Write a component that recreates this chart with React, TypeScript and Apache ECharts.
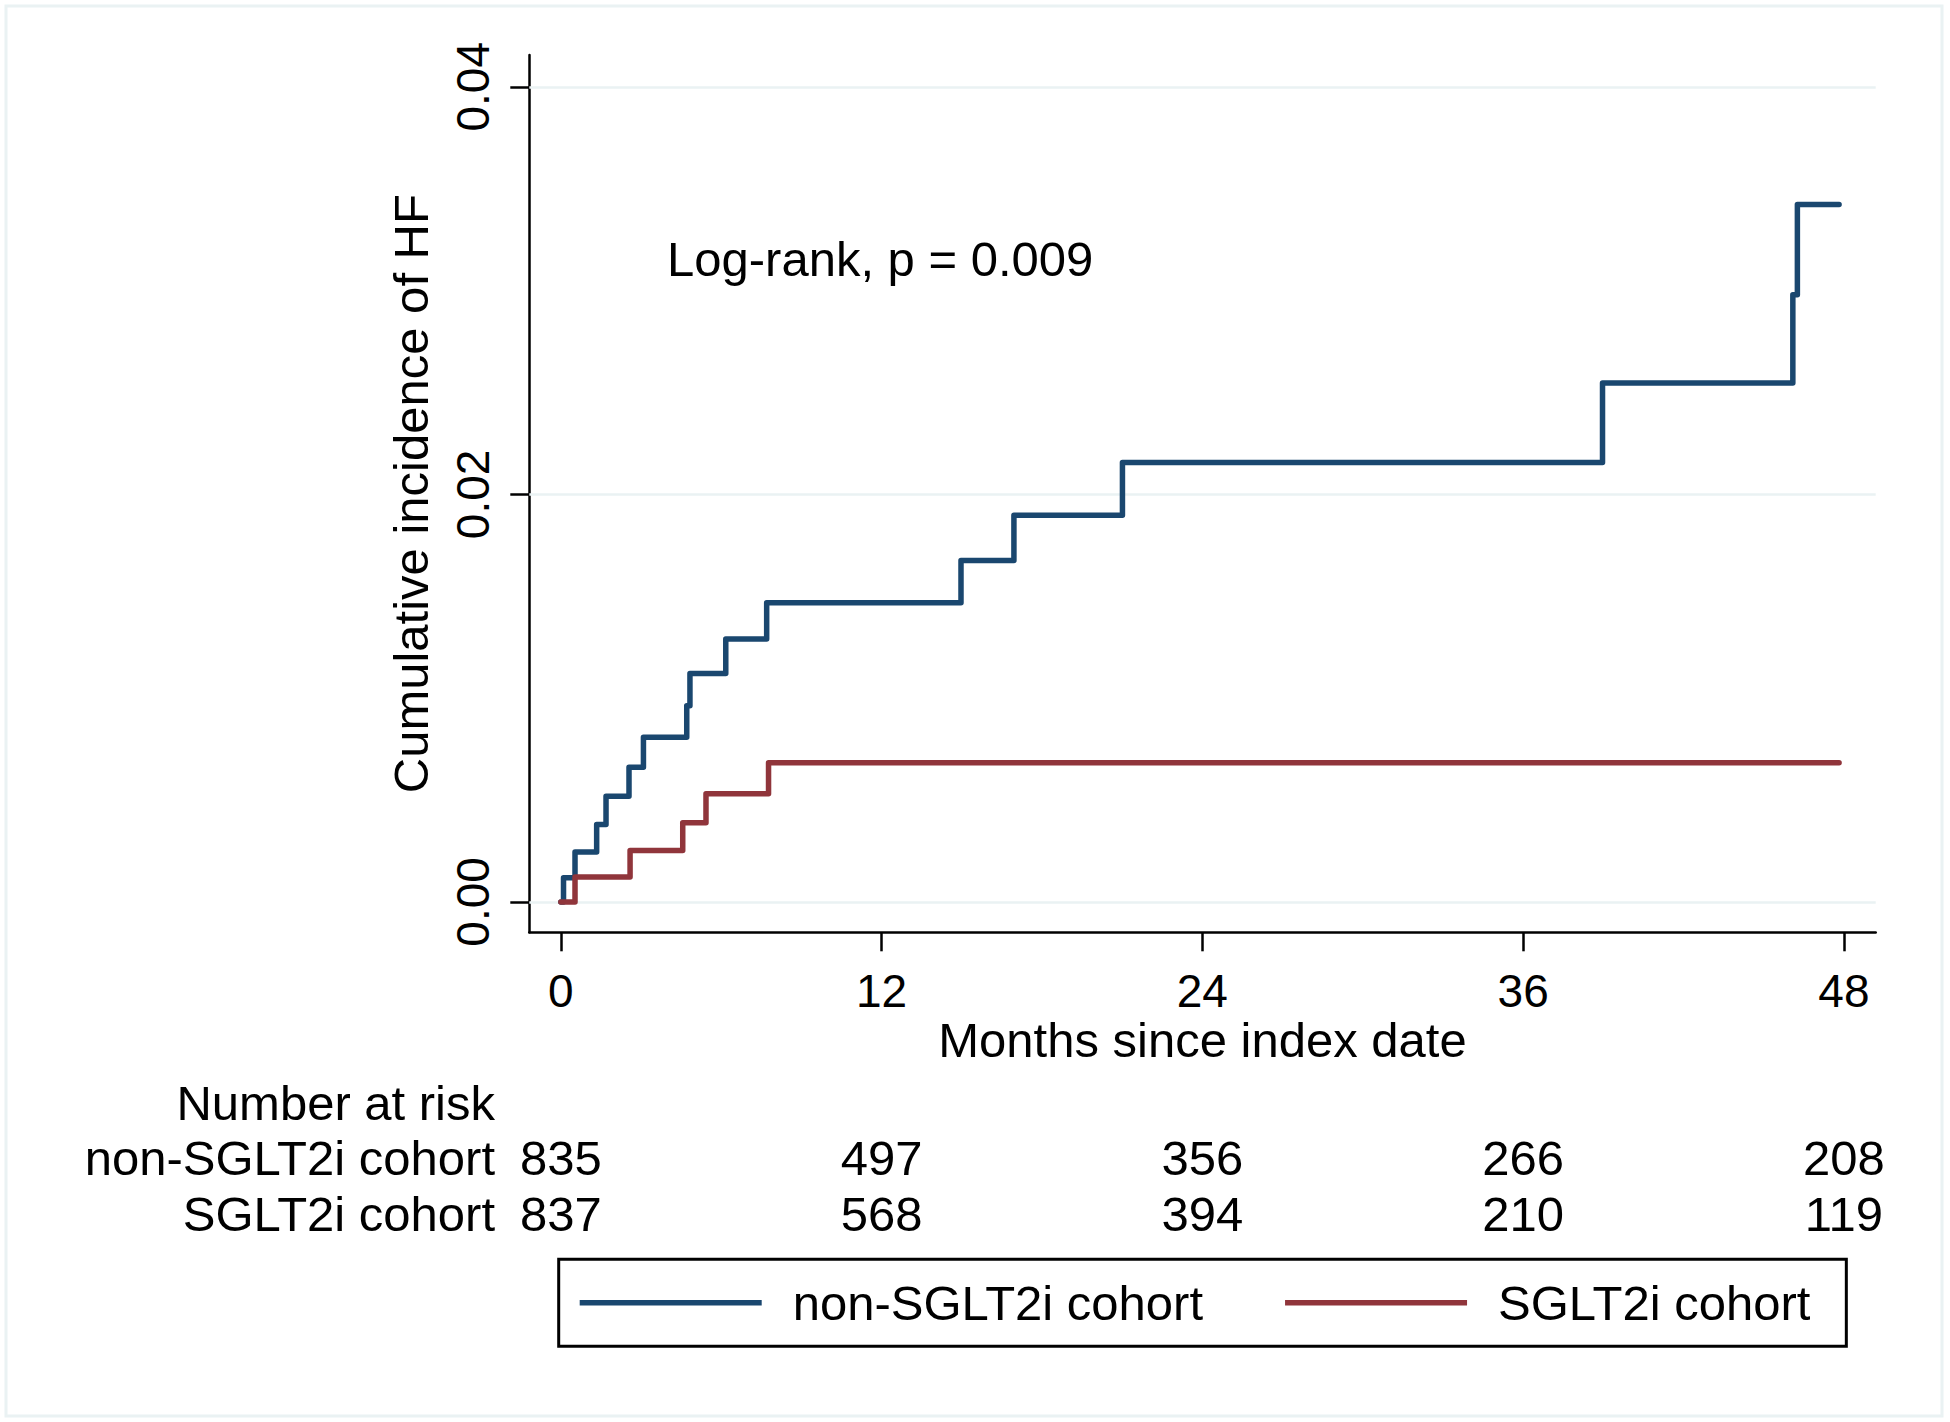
import React, { useEffect, useRef } from "react";
import * as echarts from "echarts";

const FONT = "'Liberation Sans', Arial, Helvetica, sans-serif";

// Axis ticks
const monthTicks = [0, 12, 24, 36, 48];
const incidenceTicks = [0, 0.02, 0.04];

// Kaplan-Meier style cumulative incidence steps (time in months, cumulative incidence)
const nonSglt2Months = [0, 0.1, 0.53, 1.34, 1.69, 2.55, 3.09, 4.71, 4.83, 6.17, 7.7, 14.97, 16.95, 21.01, 38.97, 46.09, 46.26, 47.82];
const nonSglt2Incidence = [0, 0.00119, 0.00245, 0.0038, 0.00518, 0.00661, 0.00808, 0.00963, 0.01121, 0.0129, 0.01468, 0.01676, 0.01897, 0.02156, 0.02546, 0.02979, 0.03423, 0.03423];

const sglt2Months = [0, 0.53, 2.59, 4.56, 5.43, 7.77, 47.82];
const sglt2Incidence = [0, 0.00122, 0.00253, 0.00389, 0.00531, 0.00683, 0.00683];

// Number at risk table
const riskNonSglt2 = [835, 497, 356, 266, 208];
const riskSglt2 = [837, 568, 394, 210, 119];

const seriesNames = ["non-SGLT2i cohort", "SGLT2i cohort"];
const seriesColors = ["#1a476f", "#90353b"];
const riskRowLabels = ["non-SGLT2i cohort", "SGLT2i cohort"];
const logRankText = "Log-rank, p = 0.009";

const X_MIN = -1.18;
const X_MAX = 49.19;
const Y_MIN = -0.00149;
const Y_MAX = 0.04156;

function zip(xs: number[], ys: number[]) {
  return xs.map((x, i) => [x, ys[i]]);
}

function riskAxis(offset: number, values: number[]) {
  return {
    type: "value",
    gridIndex: 0,
    position: "bottom",
    offset,
    min: X_MIN,
    max: X_MAX,
    axisLine: { show: false, onZero: false },
    axisTick: { show: false },
    splitLine: { show: false },
    axisLabel: {
      show: true,
      customValues: monthTicks,
      margin: 0,
      fontSize: 49,
      color: "#000",
      fontFamily: FONT,
      formatter: (v: number) => {
        const idx = monthTicks.indexOf(Math.round(v));
        return idx >= 0 ? String(values[idx]) : "";
      },
    },
  };
}

export default function App() {
  const ref = useRef<HTMLDivElement>(null);

  useEffect(() => {
    if (!ref.current) return;
    const chart = echarts.init(ref.current, undefined, { renderer: "svg" });

    const textStyleBase = { fontFamily: FONT, fill: "#000" };

    const option: any = {
      animation: false,
      backgroundColor: "#ffffff",
      grid: {
        left: 529.3,
        right: 74.3,
        top: 55,
        bottom: 489.7,
        containLabel: false,
        outerBoundsMode: "none",
      },
      xAxis: [
        {
          type: "value",
          gridIndex: 0,
          position: "bottom",
          min: X_MIN,
          max: X_MAX,
          name: "Months since index date",
          nameLocation: "middle",
          nameGap: 83,
          nameMoveOverlap: false,
          nameTextStyle: { fontSize: 49, color: "#000", fontFamily: FONT },
          axisLine: { show: true, onZero: false, lineStyle: { color: "#000", width: 2.5 } },
          axisTick: { show: true, customValues: monthTicks, length: 19, lineStyle: { color: "#000", width: 2.5 } },
          axisLabel: {
            customValues: monthTicks,
            margin: 36,
            fontSize: 46,
            color: "#000",
            fontFamily: FONT,
            formatter: (v: number) => String(Math.round(v)),
          },
          splitLine: { show: false },
        },
        riskAxis(201, riskNonSglt2),
        riskAxis(257, riskSglt2),
      ],
      yAxis: {
        type: "value",
        min: Y_MIN,
        max: Y_MAX,
        name: "Cumulative incidence of HF",
        nameLocation: "middle",
        nameGap: 94,
        nameMoveOverlap: false,
        nameTextStyle: { fontSize: 49, color: "#000", fontFamily: FONT },
        axisLine: { show: true, onZero: false, lineStyle: { color: "#000", width: 2.5 } },
        axisTick: { show: true, customValues: incidenceTicks, length: 19, lineStyle: { color: "#000", width: 2.5 } },
        axisLabel: {
          customValues: incidenceTicks,
          rotate: 90,
          margin: 33,
          fontSize: 46,
          color: "#000",
          fontFamily: FONT,
          formatter: (v: number) => v.toFixed(2),
        },
        splitLine: { show: false },
      },
      legend: {
        data: seriesNames.map((n) => ({ name: n, icon: "rect" })),
        left: 558.7,
        top: 1259.3,
        orient: "horizontal",
        padding: [19, 36, 19, 21],
        itemGap: 82,
        itemWidth: 182,
        itemHeight: 5.5,
        borderColor: "#000",
        borderWidth: 3,
        borderRadius: 0,
        backgroundColor: "#fff",
        selectedMode: false,
        textStyle: { fontSize: 49, color: "#000", fontFamily: FONT, padding: [0, 0, 0, 26] },
      },
      graphic: [
        {
          type: "rect",
          shape: { x: 6, y: 6, width: 1936, height: 1410 },
          style: { fill: "none", stroke: "#eaf2f3", lineWidth: 3 },
          silent: true,
          z: -10,
        },
        {
          type: "text",
          x: 667,
          y: 259,
          style: { ...textStyleBase, text: logRankText, fontSize: 49, align: "left", verticalAlign: "middle" },
        },
        {
          type: "text",
          x: 495,
          y: 1103,
          style: { ...textStyleBase, text: "Number at risk", fontSize: 49, align: "right", verticalAlign: "middle" },
        },
        {
          type: "text",
          x: 495,
          y: 1158,
          style: { ...textStyleBase, text: riskRowLabels[0], fontSize: 49, align: "right", verticalAlign: "middle" },
        },
        {
          type: "text",
          x: 495,
          y: 1214,
          style: { ...textStyleBase, text: riskRowLabels[1], fontSize: 49, align: "right", verticalAlign: "middle" },
        },
      ],
      series: [
        {
          name: "gridlines",
          type: "line",
          data: [],
          z: 1,
          silent: true,
          markLine: {
            silent: true,
            z: 1,
            symbol: ["none", "none"],
            label: { show: false },
            lineStyle: { color: "#eaf2f3", width: 2.7, type: "solid" },
            data: incidenceTicks.map((v) => ({ yAxis: v })),
          },
        },
        {
          name: seriesNames[0],
          type: "line",
          step: "end",
          data: zip(nonSglt2Months, nonSglt2Incidence),
          showSymbol: false,
          symbol: "none",
          color: seriesColors[0],
          lineStyle: { color: seriesColors[0], width: 5.5, join: "round", cap: "round" },
          z: 3,
        },
        {
          name: seriesNames[1],
          type: "line",
          step: "end",
          data: zip(sglt2Months, sglt2Incidence),
          showSymbol: false,
          symbol: "none",
          color: seriesColors[1],
          lineStyle: { color: seriesColors[1], width: 5.5, join: "round", cap: "round" },
          z: 3,
        },
      ],
    };

    chart.setOption(option);
    return () => {
      chart.dispose();
    };
  }, []);

  return (
    <div
      ref={ref}
      style={{ position: "absolute", left: 0, top: 0, width: 1950, height: 1422, background: "#fff" }}
    />
  );
}
